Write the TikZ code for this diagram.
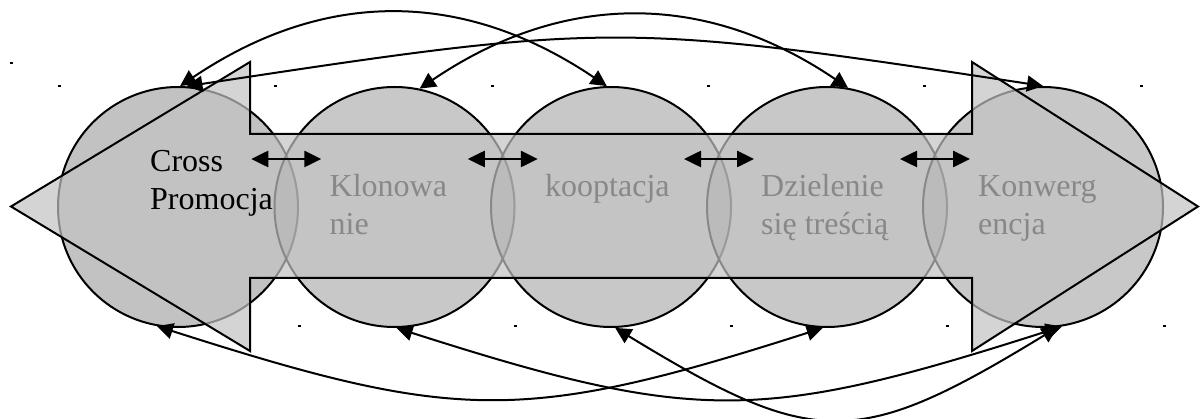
\documentclass[tikz,border=0pt]{standalone}
\usepackage{fontspec}
\setmainfont{Liberation Serif}
\usepackage{tikz}
\usetikzlibrary{arrows.meta,calc}
\definecolor{stagefill}{gray}{0.525}
\definecolor{firstfill}{gray}{0.47}
\definecolor{bandfill}{gray}{0.76}
\tikzset{
        stage/.style = {draw, circle, fill=stagefill, fill opacity=0.45, draw opacity=1, minimum size=240pt, inner sep=0pt, line width=2pt},
        caption/.style = {anchor=base west, align=left, inner sep=0pt, font=\fontsize{32}{38}\selectfont},
        band/.style = {draw, fill=bandfill, fill opacity=0.7, line width=2pt},
        link/.style = {draw, line width=2pt, {Triangle[length=16pt,width=16pt]}-{Triangle[length=16pt,width=16pt]}},
        exch/.style = {draw, line width=2.6pt, {Triangle[length=17pt,width=16pt]}-{Triangle[length=17pt,width=16pt]}}}

\begin{document}
\begin{tikzpicture}[x=1pt, y=-1pt]
            \useasboundingbox (0,0) rectangle (1201,419);
            \node [stage, fill=firstfill] (c1) at (178,207) {};
            \node [stage] (c2) at (394.5,207) {};
            \node [stage] (c3) at (611,207) {};
            \node [stage] (c4) at (827,207) {};
            \node [stage] (c5) at (1043,207) {};

            \node [caption] (t2) at ($(c2)+(-65,28)$) {Klonowa\\nie};
            \node [caption] (t3) at ($(c3)+(-66,-10)$) {kooptacja};
            \node [caption] (t4) at ($(c4)+(-66,28)$) {Dzielenie\\się treścią};
            \node [caption] (t5) at ($(c5)+(-65,28)$) {Konwerg\\encja};

            \draw [band] (11,206.5) -- (250,62) -- (250,134) -- (972,134) -- (972,62) -- (1198,206.5)
                -- (972,351) -- (972,278) -- (250,278) -- (250,351) -- cycle;

            \node [caption] (t1) at ($(c1)+(-28,3)$) {Cross\\Promocja};

            \foreach \a/\b in {c1/c2, c2/c3, c3/c4, c4/c5}
                \draw [exch] ($(\a)!.5!(\b)+(-35,-48)$) -- ($(\a)!.5!(\b)+(35,-48)$);

            \begin{scope}[link]
            \draw (c1.89) .. controls +(144,-97) and +(-144,-97) .. (c3.92);
            \draw (c2.78) .. controls +(143,-97) and +(-143,-97) .. (c4.80);
            \draw (c1.86) .. controls +(420,-64) and +(-420,-64) .. (c5.90);
            \draw (c1.260) .. controls +(300,96) and +(-300,96) .. (c4.268);
            \draw (c2.271) .. controls +(300,96) and +(-300,96) .. (c5.279);
            \draw (c3.272) .. controls +(200,122) and +(-200,122) .. (c5.277);
            \end{scope}

            \fill (10,62) rectangle +(3,2);
            \foreach \x in {59,275.5,492,708,924,1141}
                \fill (\x-1.5,85) rectangle +(3,2);
            \foreach \x in {299,515,731,947,1164}
                \fill (\x-1.5,325) rectangle +(3,2);
    \end{tikzpicture}
\end{document}
